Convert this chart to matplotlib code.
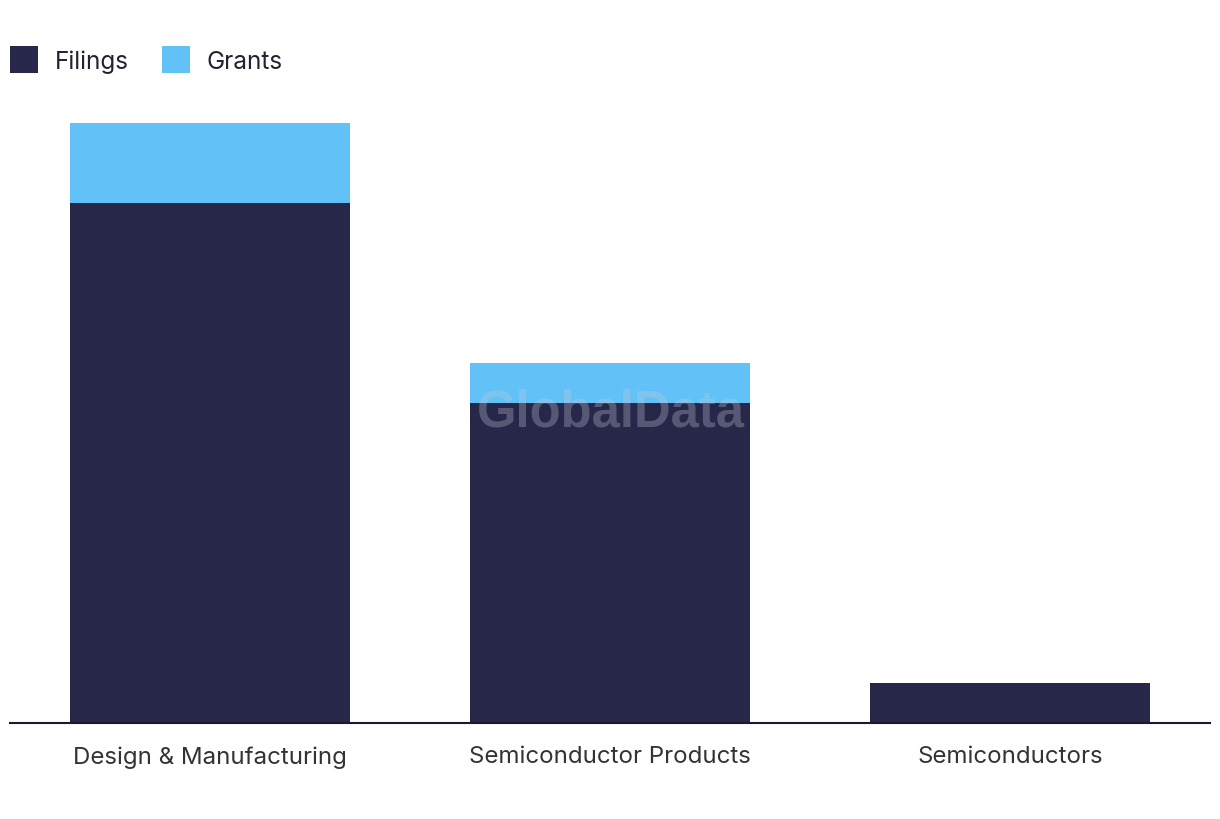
import matplotlib.pyplot as plt
import numpy as np

# %% Data
categories = ['Design & Manufacturing', 'Semiconductor Products', 'Semiconductors']
filings = [13, 8, 1]
grants = [2, 1, 0]

navy = '#272849'
blue = '#62c2f7'

plt.rcParams['font.family'] = ['Inter', 'DejaVu Sans']

# %% Plot
fig = plt.figure(figsize=(12.2, 8.2), dpi=100)
ax = fig.add_axes([10/1220, 96/820, 1200/1220, 600/820])

x = np.arange(len(categories))
ax.bar(x, filings, width=0.7, color=navy, label='Filings', zorder=2)
ax.bar(x, grants, width=0.7, bottom=filings, color=blue, label='Grants', zorder=2)

ax.set_xlim(-0.5, len(categories) - 0.5)
ax.set_ylim(0, 15)
ax.set_xticks(x)
ax.set_xticklabels(categories, fontsize=17.3, color='#333333')
ax.tick_params(axis='x', length=0, pad=16)
ax.set_yticks([])
for s in ['top', 'right', 'left']:
    ax.spines[s].set_visible(False)
ax.spines['bottom'].set_color('#1a1a2e')
ax.spines['bottom'].set_linewidth(1.5)
ax.spines['bottom'].set_zorder(3)

ax.legend(loc='center left', bbox_to_anchor=(10/1220, 1 - 60.5/820),
          bbox_transform=fig.transFigure, ncol=2, frameon=False,
          fontsize=17.5, handlelength=1.15, handleheight=1.35,
          handletextpad=0.7, columnspacing=1.35, borderpad=0,
          borderaxespad=0, labelcolor='#222233')

# watermark
fig.text(611/1220, 1 - 413/820, 'GlobalData', ha='center', va='center',
         fontsize=36.5, fontweight='bold', family=['Liberation Sans', 'DejaVu Sans'],
         color='#c8c8d8', alpha=0.3, zorder=5)

fig.savefig('out.png', dpi=100)
